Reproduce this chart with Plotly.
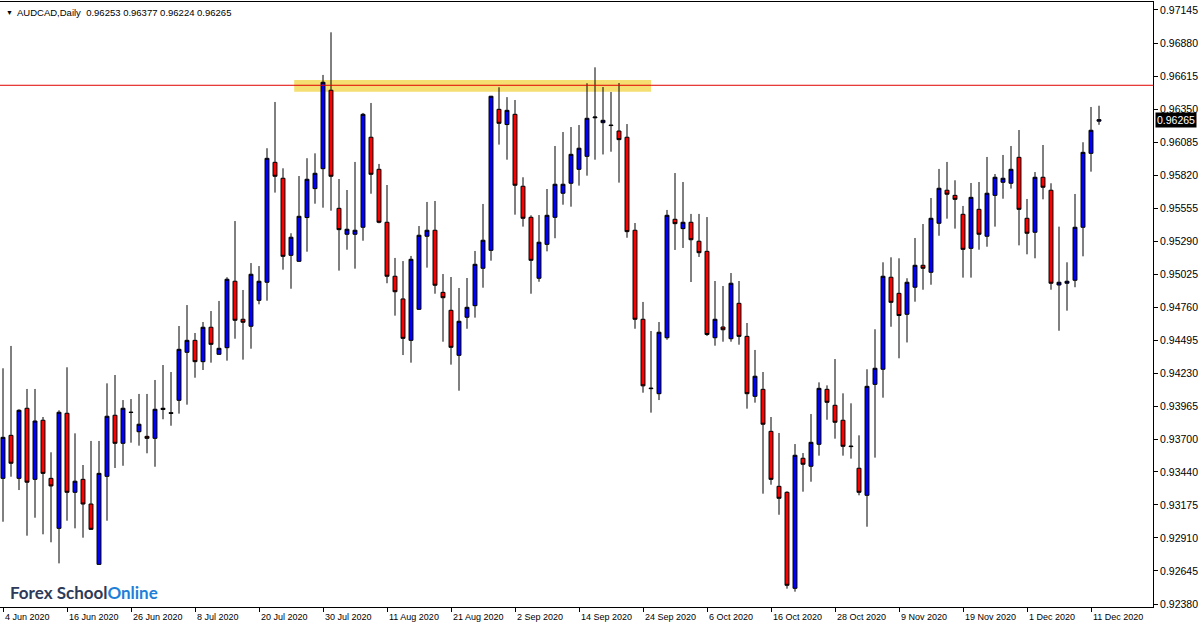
import plotly.graph_objects as go

# ---- data ----
bar_index = list(range(138))

open_ = [0.93388, 0.93733, 0.93388, 0.93950, 0.93380, 0.93854, 0.93388, 0.92987, 0.93910, 0.93276,
         0.93380, 0.93182, 0.92698, 0.93404, 0.93894, 0.93669, 0.93916, 0.93762, 0.93725, 0.93709,
         0.93940, 0.93915, 0.94014, 0.94399, 0.94495, 0.94324, 0.94600, 0.94383, 0.94436, 0.94969,
         0.94664, 0.94608, 0.94816, 0.94961, 0.95923, 0.95795, 0.95177, 0.95129, 0.95480, 0.95712,
         0.95872, 0.96501, 0.95554, 0.95346, 0.95346, 0.95402, 0.96124, 0.95867, 0.95442, 0.95009,
         0.94827, 0.94495, 0.94744, 0.95330, 0.95378, 0.94880, 0.94736, 0.94375, 0.94680, 0.94773,
         0.95073, 0.95217, 0.96348, 0.96226, 0.96308, 0.95731, 0.95482, 0.94993, 0.95265, 0.95482,
         0.95675, 0.95755, 0.95867, 0.95971, 0.96280, 0.96241, 0.96222, 0.96174, 0.96124, 0.95378,
         0.94664, 0.94112, 0.94067, 0.94516, 0.95466, 0.95391, 0.95442, 0.95290, 0.95209, 0.94516,
         0.94602, 0.94508, 0.94792, 0.94527, 0.94046, 0.94102, 0.93765, 0.93324, 0.93276, 0.92506,
         0.93549, 0.93485, 0.93661, 0.94102, 0.93974, 0.93854, 0.93647, 0.93469, 0.93252, 0.94142,
         0.94263, 0.95001, 0.94872, 0.94704, 0.94921, 0.95097, 0.95041, 0.95434, 0.95699, 0.95658,
         0.95506, 0.95233, 0.95546, 0.95330, 0.95658, 0.95763, 0.95755, 0.95963, 0.95474, 0.95362,
         0.95803, 0.95699, 0.94939, 0.94953, 0.94977, 0.95402, 0.95995, 0.96253]

high = [0.94271, 0.94450, 0.93942, 0.94105, 0.94105, 0.93880, 0.93597, 0.93934, 0.94279, 0.93749,
        0.93495, 0.93688, 0.93688, 0.94150, 0.94217, 0.94016, 0.94024, 0.94065, 0.94065, 0.94177,
        0.94297, 0.94241, 0.94610, 0.94778, 0.94554, 0.94642, 0.94730, 0.94811, 0.95001, 0.95452,
        0.94899, 0.95115, 0.95091, 0.96036, 0.96407, 0.95875, 0.95354, 0.95813, 0.95956, 0.95995,
        0.96624, 0.96966, 0.95789, 0.95701, 0.95926, 0.96319, 0.96399, 0.95910, 0.95741, 0.95156,
        0.95131, 0.95172, 0.95412, 0.95605, 0.95613, 0.95027, 0.95003, 0.94915, 0.94995, 0.95212,
        0.95589, 0.96456, 0.96525, 0.96446, 0.96423, 0.95803, 0.95498, 0.95500, 0.95709, 0.96054,
        0.96166, 0.96206, 0.96222, 0.96557, 0.96685, 0.96527, 0.96487, 0.96559, 0.96230, 0.95436,
        0.94803, 0.94570, 0.94642, 0.95541, 0.95837, 0.95765, 0.95509, 0.95509, 0.95484, 0.94971,
        0.94931, 0.95035, 0.94971, 0.94634, 0.94418, 0.94241, 0.93880, 0.93752, 0.93284, 0.93663,
        0.93591, 0.93904, 0.94158, 0.94134, 0.94345, 0.94070, 0.93990, 0.93733, 0.94263, 0.94584,
        0.95121, 0.95161, 0.95153, 0.94993, 0.95316, 0.95428, 0.95637, 0.95870, 0.95926, 0.95779,
        0.95573, 0.95757, 0.95765, 0.95966, 0.95829, 0.95982, 0.96054, 0.96182, 0.95629, 0.95845,
        0.96062, 0.95755, 0.95407, 0.95121, 0.95669, 0.96084, 0.96367, 0.96377]

low = [0.93040, 0.93401, 0.93294, 0.92928, 0.93072, 0.92939, 0.92875, 0.92706, 0.93048, 0.92987,
       0.92912, 0.92975, 0.92695, 0.93048, 0.93471, 0.93489, 0.93674, 0.93650, 0.93589, 0.93481,
       0.93862, 0.93810, 0.93907, 0.93979, 0.94195, 0.94257, 0.94316, 0.94380, 0.94332, 0.94508,
       0.94340, 0.94428, 0.94784, 0.94813, 0.95680, 0.95062, 0.94909, 0.95125, 0.95206, 0.95591,
       0.95559, 0.95535, 0.95054, 0.95222, 0.95070, 0.95294, 0.95671, 0.95434, 0.94953, 0.94693,
       0.94377, 0.94316, 0.94740, 0.95078, 0.94869, 0.94484, 0.94300, 0.94091, 0.94588, 0.94677,
       0.94917, 0.95134, 0.96065, 0.95944, 0.95503, 0.95407, 0.94869, 0.94965, 0.95209, 0.95314,
       0.95583, 0.95567, 0.95736, 0.95816, 0.95944, 0.95986, 0.96008, 0.95760, 0.95318, 0.94588,
       0.94075, 0.93915, 0.94016, 0.94500, 0.95220, 0.95236, 0.94963, 0.95164, 0.94530, 0.94452,
       0.94484, 0.94484, 0.94460, 0.93947, 0.93995, 0.93265, 0.93337, 0.93096, 0.92503, 0.92479,
       0.93281, 0.93361, 0.93570, 0.93858, 0.93706, 0.93570, 0.93546, 0.93252, 0.93000, 0.93554,
       0.94035, 0.94604, 0.94351, 0.94478, 0.94805, 0.94901, 0.94941, 0.95334, 0.95471, 0.95391,
       0.94998, 0.94998, 0.95222, 0.95246, 0.95407, 0.95631, 0.95712, 0.95257, 0.95185, 0.95153,
       0.95626, 0.94901, 0.94572, 0.94733, 0.94921, 0.95169, 0.95848, 0.96224]

close = [0.93717, 0.93509, 0.93934, 0.93357, 0.93848, 0.93428, 0.93327, 0.93918, 0.93276, 0.93365,
         0.93182, 0.92979, 0.93428, 0.93886, 0.93669, 0.93950, 0.93918, 0.93822, 0.93709, 0.93942,
         0.93950, 0.93909, 0.94423, 0.94495, 0.94324, 0.94600, 0.94463, 0.94431, 0.94985, 0.94656,
         0.94640, 0.95025, 0.94969, 0.95955, 0.95811, 0.95169, 0.95322, 0.95490, 0.95787, 0.95835,
         0.96565, 0.95811, 0.95383, 0.95386, 0.95378, 0.96308, 0.95827, 0.95442, 0.95009, 0.94885,
         0.94511, 0.95145, 0.95338, 0.95378, 0.94937, 0.94837, 0.94439, 0.94648, 0.94760, 0.95105,
         0.95298, 0.96453, 0.96236, 0.96340, 0.95739, 0.95474, 0.95137, 0.95282, 0.95498, 0.95747,
         0.95747, 0.95987, 0.96036, 0.96276, 0.96286, 0.96260, 0.96218, 0.96105, 0.95367, 0.94664,
         0.94130, 0.94108, 0.94560, 0.95498, 0.95431, 0.95442, 0.95302, 0.95198, 0.94542, 0.94664,
         0.94580, 0.94953, 0.94527, 0.94067, 0.94207, 0.93822, 0.93380, 0.93228, 0.92530, 0.93573,
         0.93501, 0.93677, 0.94110, 0.93998, 0.93838, 0.93645, 0.93643, 0.93276, 0.94126, 0.94271,
         0.95009, 0.94800, 0.94694, 0.94961, 0.95097, 0.95073, 0.95474, 0.95715, 0.95667, 0.95626,
         0.95225, 0.95642, 0.95346, 0.95675, 0.95803, 0.95795, 0.95867, 0.95546, 0.95354, 0.95803,
         0.95723, 0.94953, 0.94961, 0.94969, 0.95402, 0.96003, 0.96180, 0.96265]

date_tick_index = [0, 8, 16, 24, 32, 40, 48, 56, 64, 72, 80, 88, 96, 104, 112, 120, 128, 136]
date_labels = ["4 Jun 2020", "16 Jun 2020", "26 Jun 2020", "8 Jul 2020", "20 Jul 2020",
               "30 Jul 2020", "11 Aug 2020", "21 Aug 2020", "2 Sep 2020", "14 Sep 2020",
               "24 Sep 2020", "6 Oct 2020", "16 Oct 2020", "28 Oct 2020", "9 Nov 2020",
               "19 Nov 2020", "1 Dec 2020", "11 Dec 2020"]

price_ticks = [0.97145, 0.96880, 0.96615, 0.96350, 0.96085, 0.95820, 0.95555, 0.95290, 0.95025,
               0.94760, 0.94495, 0.94230, 0.93965, 0.93700, 0.93440, 0.93175, 0.92910, 0.92645,
               0.92380]

zone_start, zone_end = 36.4, 81.0          # resistance zone (bar positions)
zone_low, zone_high = 0.96490, 0.96583     # resistance zone (prices)
hline_price = 0.96541
last_price = 0.96265
header = "AUDCAD,Daily  0.96253 0.96377 0.96224 0.96265"

FONT = "Liberation Sans, Arial, sans-serif"

fig = go.Figure()
fig.add_trace(go.Candlestick(
    x=bar_index, open=open_, high=high, low=low, close=close,
    increasing=dict(line=dict(color="black", width=1), fillcolor="#0000FF"),
    decreasing=dict(line=dict(color="black", width=1), fillcolor="#FF0000"),
    whiskerwidth=0, hoverinfo="skip", showlegend=False,
))

fig.add_shape(type="rect", xref="x", yref="y", x0=zone_start, x1=zone_end,
              y0=zone_low, y1=zone_high, fillcolor="#F5DF72", line=dict(width=0), layer="below")
fig.add_shape(type="line", xref="paper", yref="y", x0=0, x1=1, y0=hline_price, y1=hline_price,
              line=dict(color="#E00000", width=1), layer="above")

annotations = []
for idx, lab in zip(date_tick_index, date_labels):
    annotations.append(dict(x=idx, y=0, xref="x", yref="paper", text=lab, showarrow=False,
                            xanchor="left", yanchor="top", xshift=0, yshift=-3,
                            font=dict(family=FONT, size=9, color="black")))
annotations.append(dict(x=1, y=last_price, xref="paper", yref="y", text="0.96265", showarrow=False,
                        xanchor="left", yanchor="middle", xshift=2, bgcolor="black", borderpad=1,
                        font=dict(family=FONT, size=10.5, color="white")))
annotations.append(dict(x=0, y=1, xref="paper", yref="paper", text="▼", showarrow=False,
                        xanchor="left", yanchor="top", xshift=4, yshift=-5,
                        font=dict(family=FONT, size=7, color="black")))
annotations.append(dict(x=0, y=1, xref="paper", yref="paper", text=header, showarrow=False,
                        xanchor="left", yanchor="top", xshift=15, yshift=-3,
                        font=dict(family=FONT, size=9.5, color="black")))
annotations.append(dict(x=0, y=0, xref="paper", yref="paper",
                        text="<b>Forex School</b><b><span style='color:#1E7FD8'>Online</span></b>",
                        showarrow=False, xanchor="left", yanchor="bottom", xshift=8, yshift=2,
                        font=dict(family="Lato, Open Sans, sans-serif", size=17, color="#2E3A57")))

fig.update_layout(
    width=1200, height=627, autosize=False,
    margin=dict(l=0, r=47, t=2, b=20, pad=0),
    paper_bgcolor="white", plot_bgcolor="white",
    annotations=annotations,
    xaxis=dict(range=[-0.375, 143.75], rangeslider=dict(visible=False), showgrid=False,
               zeroline=False, showline=True, linecolor="black", linewidth=1, mirror=True,
               tickmode="array", tickvals=date_tick_index, ticktext=[""] * len(date_tick_index),
               ticks="outside", ticklen=4, tickcolor="black", showticklabels=False),
    yaxis=dict(range=[0.92356, 0.97209], side="right", showgrid=False, zeroline=False,
               showline=True, linecolor="black", linewidth=1, mirror=True,
               tickmode="array", tickvals=price_ticks, ticktext=[f"{v:.5f}" for v in price_ticks],
               ticks="outside", ticklen=4, tickcolor="black",
               tickfont=dict(family=FONT, size=10.5, color="black")),
    hovermode=False,
)

fig.write_html("out.html", config={"displayModeBar": False},
               post_script="document.body.style.margin='0';document.body.style.overflow='hidden';")
